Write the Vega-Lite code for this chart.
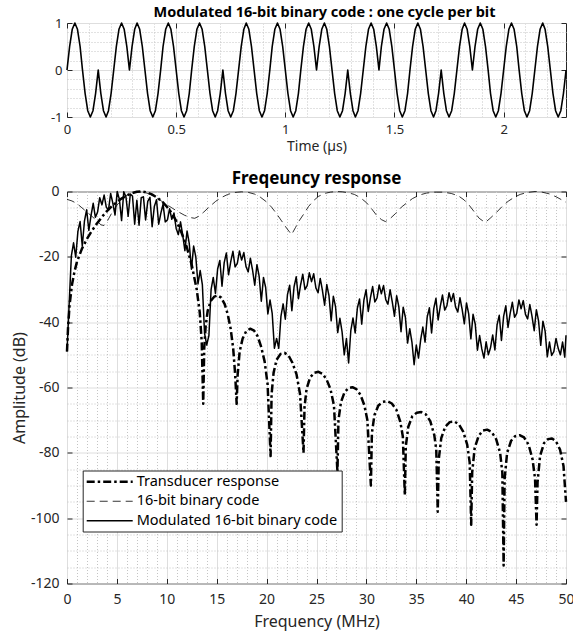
{
"$schema":"https://vega.github.io/schema/vega-lite/v6.json",
"padding":{"left":10,"top":4,"right":0,"bottom":2},
"spacing":14.5,
"config":{
 "font":"Noto Sans",
 "view":{"stroke":"#262626","strokeWidth":1},
 "axis":{"domain":false,"labelColor":"#262626","titleColor":"#262626","titleFontWeight":"normal","tickColor":"#262626","tickSize":-5,"gridColor":"#dedede","gridWidth":1,"labelFlush":false,"labelOverlap":false,"labelExpr":"'' + datum.value"},
 "title":{"color":"#000000","fontWeight":"bold","anchor":"middle","frame":"group"},
 "legend":{"strokeColor":"#262626","fillColor":"#ffffff","padding":4,"symbolType":"M-5.75,0H5.75","symbolSize":64,"symbolOffset":15.75,"labelOffset":19.75,"labelFontSize":14.5,"labelColor":"#000000","labelLimit":400,"rowPadding":4.5,"symbolStrokeColor":"#000000"}
},
"datasets":{
"wave":[{"t":0,"v":0},{"t":0.012,"v":0.5},{"t":0.024,"v":0.866},{"t":0.036,"v":1},{"t":0.048,"v":0.866},{"t":0.06,"v":0.5},{"t":0.071,"v":0},{"t":0.083,"v":-0.5},{"t":0.095,"v":-0.866},{"t":0.107,"v":-1},{"t":0.119,"v":-0.866},{"t":0.131,"v":-0.5},
{"t":0.143,"v":0},{"t":0.155,"v":-0.5},{"t":0.167,"v":-0.866},{"t":0.179,"v":-1},{"t":0.19,"v":-0.866},{"t":0.202,"v":-0.5},{"t":0.214,"v":0},{"t":0.226,"v":0.5},{"t":0.238,"v":0.866},{"t":0.25,"v":1},{"t":0.262,"v":0.866},{"t":0.274,"v":0.5},
{"t":0.286,"v":0},{"t":0.298,"v":0.5},{"t":0.31,"v":0.866},{"t":0.321,"v":1},{"t":0.333,"v":0.866},{"t":0.345,"v":0.5},{"t":0.357,"v":0},{"t":0.369,"v":-0.5},{"t":0.381,"v":-0.866},{"t":0.393,"v":-1},{"t":0.405,"v":-0.866},{"t":0.417,"v":-0.5},
{"t":0.429,"v":0},{"t":0.44,"v":0.5},{"t":0.452,"v":0.866},{"t":0.464,"v":1},{"t":0.476,"v":0.866},{"t":0.488,"v":0.5},{"t":0.5,"v":0},{"t":0.512,"v":-0.5},{"t":0.524,"v":-0.866},{"t":0.536,"v":-1},{"t":0.548,"v":-0.866},{"t":0.56,"v":-0.5},
{"t":0.571,"v":0},{"t":0.583,"v":0.5},{"t":0.595,"v":0.866},{"t":0.607,"v":1},{"t":0.619,"v":0.866},{"t":0.631,"v":0.5},{"t":0.643,"v":0},{"t":0.655,"v":-0.5},{"t":0.667,"v":-0.866},{"t":0.679,"v":-1},{"t":0.69,"v":-0.866},{"t":0.702,"v":-0.5},
{"t":0.714,"v":0},{"t":0.726,"v":-0.5},{"t":0.738,"v":-0.866},{"t":0.75,"v":-1},{"t":0.762,"v":-0.866},{"t":0.774,"v":-0.5},{"t":0.786,"v":0},{"t":0.798,"v":0.5},{"t":0.81,"v":0.866},{"t":0.821,"v":1},{"t":0.833,"v":0.866},{"t":0.845,"v":0.5},
{"t":0.857,"v":0},{"t":0.869,"v":-0.5},{"t":0.881,"v":-0.866},{"t":0.893,"v":-1},{"t":0.905,"v":-0.866},{"t":0.917,"v":-0.5},{"t":0.929,"v":0},{"t":0.94,"v":0.5},{"t":0.952,"v":0.866},{"t":0.964,"v":1},{"t":0.976,"v":0.866},{"t":0.988,"v":0.5},
{"t":1,"v":0},{"t":1.012,"v":-0.5},{"t":1.024,"v":-0.866},{"t":1.036,"v":-1},{"t":1.048,"v":-0.866},{"t":1.06,"v":-0.5},{"t":1.071,"v":0},{"t":1.083,"v":0.5},{"t":1.095,"v":0.866},{"t":1.107,"v":1},{"t":1.119,"v":0.866},{"t":1.131,"v":0.5},
{"t":1.143,"v":0},{"t":1.155,"v":0.5},{"t":1.167,"v":0.866},{"t":1.179,"v":1},{"t":1.19,"v":0.866},{"t":1.202,"v":0.5},{"t":1.214,"v":0},{"t":1.226,"v":-0.5},{"t":1.238,"v":-0.866},{"t":1.25,"v":-1},{"t":1.262,"v":-0.866},{"t":1.274,"v":-0.5},
{"t":1.286,"v":0},{"t":1.298,"v":-0.5},{"t":1.31,"v":-0.866},{"t":1.321,"v":-1},{"t":1.333,"v":-0.866},{"t":1.345,"v":-0.5},{"t":1.357,"v":0},{"t":1.369,"v":0.5},{"t":1.381,"v":0.866},{"t":1.393,"v":1},{"t":1.405,"v":0.866},{"t":1.417,"v":0.5},
{"t":1.429,"v":0},{"t":1.44,"v":0.5},{"t":1.452,"v":0.866},{"t":1.464,"v":1},{"t":1.476,"v":0.866},{"t":1.488,"v":0.5},{"t":1.5,"v":0},{"t":1.512,"v":-0.5},{"t":1.524,"v":-0.866},{"t":1.536,"v":-1},{"t":1.548,"v":-0.866},{"t":1.56,"v":-0.5},
{"t":1.571,"v":0},{"t":1.583,"v":0.5},{"t":1.595,"v":0.866},{"t":1.607,"v":1},{"t":1.619,"v":0.866},{"t":1.631,"v":0.5},{"t":1.643,"v":0},{"t":1.655,"v":-0.5},{"t":1.667,"v":-0.866},{"t":1.679,"v":-1},{"t":1.69,"v":-0.866},{"t":1.702,"v":-0.5},
{"t":1.714,"v":0},{"t":1.726,"v":-0.5},{"t":1.738,"v":-0.866},{"t":1.75,"v":-1},{"t":1.762,"v":-0.866},{"t":1.774,"v":-0.5},{"t":1.786,"v":0},{"t":1.798,"v":0.5},{"t":1.81,"v":0.866},{"t":1.821,"v":1},{"t":1.833,"v":0.866},{"t":1.845,"v":0.5},
{"t":1.857,"v":0},{"t":1.869,"v":0.5},{"t":1.881,"v":0.866},{"t":1.893,"v":1},{"t":1.905,"v":0.866},{"t":1.917,"v":0.5},{"t":1.929,"v":0},{"t":1.94,"v":-0.5},{"t":1.952,"v":-0.866},{"t":1.964,"v":-1},{"t":1.976,"v":-0.866},{"t":1.988,"v":-0.5},
{"t":2,"v":0},{"t":2.012,"v":0.5},{"t":2.024,"v":0.866},{"t":2.036,"v":1},{"t":2.048,"v":0.866},{"t":2.06,"v":0.5},{"t":2.071,"v":0},{"t":2.083,"v":-0.5},{"t":2.095,"v":-0.866},{"t":2.107,"v":-1},{"t":2.119,"v":-0.866},{"t":2.131,"v":-0.5},
{"t":2.143,"v":0},{"t":2.155,"v":0.5},{"t":2.167,"v":0.866},{"t":2.179,"v":1},{"t":2.19,"v":0.866},{"t":2.202,"v":0.5},{"t":2.214,"v":0},{"t":2.226,"v":-0.5},{"t":2.238,"v":-0.866},{"t":2.25,"v":-1},{"t":2.262,"v":-0.866},{"t":2.274,"v":-0.5},{"t":2.286,"v":0}],
"trans":[{"f":0,"db":-49},{"f":0.1,"db":-42},{"f":0.25,"db":-35},{"f":0.5,"db":-28.5},{"f":0.75,"db":-24.5},{"f":1,"db":-21.5},{"f":1.5,"db":-17.5},{"f":2,"db":-14.5},{"f":2.5,"db":-12},{"f":3,"db":-9.8},{"f":3.5,"db":-7.8},{"f":4,"db":-6},{"f":4.5,"db":-4.5},{"f":5,"db":-3.2},{"f":5.5,"db":-2.1},{"f":6,"db":-1.2},{"f":6.5,"db":-0.5},{"f":7,"db":-0.1},{"f":7.5,"db":0},{"f":8,"db":-0.3},{"f":8.5,"db":-0.9},{"f":9,"db":-1.8},{"f":9.5,"db":-3},{"f":10,"db":-4.6},{"f":10.5,"db":-6.6},{"f":11,"db":-9.3},{"f":11.5,"db":-12.8},{"f":12,"db":-17},{"f":12.5,"db":-22.5},{"f":13,"db":-30},{"f":13.3,"db":-37},{"f":13.5,"db":-46},{"f":13.65,"db":-65},{"f":13.75,"db":-48},{"f":13.9,"db":-41},{"f":14.1,"db":-36.5},{"f":14.4,"db":-33.5},{"f":14.75,"db":-32.2},{"f":15.1,"db":-31.8},{"f":15.45,"db":-32.5},{"f":15.8,"db":-34.5},{"f":16.1,"db":-37.5},{"f":16.4,"db":-42},{"f":16.65,"db":-48},{"f":16.85,"db":-56},{"f":17,"db":-65},{"f":17.1,"db":-56},{"f":17.3,"db":-49},{"f":17.6,"db":-45},{"f":17.95,"db":-42.8},{"f":18.35,"db":-42},{"f":18.75,"db":-42.6},{"f":19.1,"db":-44.3},{"f":19.45,"db":-47.5},{"f":19.8,"db":-52},{"f":20.1,"db":-59},{"f":20.4,"db":-81},{"f":20.5,"db":-62},{"f":20.7,"db":-55.5},{"f":21,"db":-51.5},{"f":21.4,"db":-49.7},{"f":21.8,"db":-49.4},{"f":22.2,"db":-50.2},{"f":22.6,"db":-52.5},{"f":23,"db":-56},{"f":23.35,"db":-62},{"f":23.7,"db":-80},{"f":23.8,"db":-66},{"f":24,"db":-60.5},{"f":24.35,"db":-57},{"f":24.75,"db":-55.5},{"f":25.2,"db":-55.2},{"f":25.6,"db":-55.8},{"f":26,"db":-57.5},{"f":26.4,"db":-60.5},{"f":26.75,"db":-65.5},{"f":27.1,"db":-86},{"f":27.2,"db":-70},{"f":27.45,"db":-64.5},{"f":27.8,"db":-61.5},{"f":28.2,"db":-60.2},{"f":28.6,"db":-59.9},{"f":29,"db":-60.5},{"f":29.4,"db":-62.2},{"f":29.8,"db":-65.5},{"f":30.1,"db":-70},{"f":30.45,"db":-90},{"f":30.55,"db":-74},{"f":30.8,"db":-68.5},{"f":31.2,"db":-65.5},{"f":31.65,"db":-64.4},{"f":32.1,"db":-64.2},{"f":32.55,"db":-64.9},{"f":33,"db":-66.8},{"f":33.4,"db":-70.5},{"f":33.65,"db":-75},{"f":33.85,"db":-93},{"f":33.95,"db":-78},{"f":34.2,"db":-72},{"f":34.6,"db":-68.8},{"f":35.05,"db":-67.7},{"f":35.5,"db":-67.5},{"f":35.95,"db":-68.2},{"f":36.4,"db":-70.3},{"f":36.8,"db":-74.5},{"f":37,"db":-79},{"f":37.15,"db":-98},{"f":37.25,"db":-82},{"f":37.5,"db":-75.5},{"f":37.9,"db":-72},{"f":38.35,"db":-70.6},{"f":38.8,"db":-70.4},{"f":39.25,"db":-71.2},{"f":39.7,"db":-73.5},{"f":40.1,"db":-77.5},{"f":40.35,"db":-83},{"f":40.5,"db":-102},{"f":40.6,"db":-86},{"f":40.85,"db":-78.5},{"f":41.25,"db":-74.8},{"f":41.65,"db":-73.2},{"f":42.1,"db":-72.9},{"f":42.55,"db":-73.6},{"f":43,"db":-75.8},{"f":43.4,"db":-80},{"f":43.62,"db":-86},{"f":43.75,"db":-114.5},{"f":43.85,"db":-88},{"f":44.1,"db":-80},{"f":44.5,"db":-76.3},{"f":44.9,"db":-74.9},{"f":45.35,"db":-74.6},{"f":45.8,"db":-75.3},{"f":46.25,"db":-77.5},{"f":46.65,"db":-82},{"f":46.9,"db":-88},{"f":47.05,"db":-102},{"f":47.15,"db":-89},{"f":47.4,"db":-81},{"f":47.8,"db":-77},{"f":48.2,"db":-75.8},{"f":48.6,"db":-75.6},{"f":49,"db":-76.5},{"f":49.4,"db":-79},{"f":49.75,"db":-84},{"f":50,"db":-95}],
"code":[{"f":0,"db":-2.4},{"f":0.5,"db":-2.9},{"f":1,"db":-3.7},{"f":1.5,"db":-5},{"f":2,"db":-6.3},{"f":2.5,"db":-7.6},{"f":3,"db":-9},{"f":3.4,"db":-10.2},{"f":3.7,"db":-10.4},{"f":4,"db":-9.3},{"f":4.5,"db":-6.5},{"f":5,"db":-4.2},{"f":5.5,"db":-2.4},{"f":6,"db":-1.1},{"f":6.6,"db":-0.3},{"f":7.2,"db":-0.1},{"f":7.8,"db":-0.3},{"f":8.3,"db":-0.8},{"f":8.9,"db":-1.8},{"f":9.5,"db":-3},{"f":10,"db":-4},{"f":10.6,"db":-5.2},{"f":11.2,"db":-6.3},{"f":11.8,"db":-7.3},{"f":12.4,"db":-8},{"f":12.8,"db":-8.2},{"f":13.2,"db":-7.6},{"f":13.7,"db":-6.3},{"f":14.3,"db":-4.6},{"f":14.9,"db":-3},{"f":15.5,"db":-1.8},{"f":16.1,"db":-0.9},{"f":16.8,"db":-0.3},{"f":17.5,"db":-0.1},{"f":18.2,"db":-0.3},{"f":18.8,"db":-0.8},{"f":19.4,"db":-1.8},{"f":20,"db":-3.2},{"f":20.5,"db":-4.8},{"f":21,"db":-6.8},{"f":21.5,"db":-9},{"f":22,"db":-11.2},{"f":22.5,"db":-13.2},{"f":22.9,"db":-11},{"f":23.3,"db":-8.8},{"f":23.7,"db":-7},{"f":24.2,"db":-4.6},{"f":24.7,"db":-2.8},{"f":25.2,"db":-1.5},{"f":25.8,"db":-0.6},{"f":26.4,"db":-0.2},{"f":27,"db":0},{"f":27.6,"db":-0.1},{"f":28.2,"db":-0.4},{"f":28.8,"db":-0.9},{"f":29.4,"db":-1.9},{"f":30,"db":-3.4},{"f":30.5,"db":-5.2},{"f":31,"db":-7.2},{"f":31.5,"db":-8.6},{"f":31.9,"db":-9.2},{"f":32.3,"db":-8.5},{"f":32.9,"db":-6.8},{"f":33.5,"db":-4.8},{"f":34,"db":-3.6},{"f":34.6,"db":-2.2},{"f":35.3,"db":-1.1},{"f":36,"db":-0.5},{"f":36.8,"db":-0.2},{"f":37.7,"db":-0.2},{"f":38.5,"db":-0.6},{"f":39.2,"db":-1.3},{"f":39.8,"db":-2.6},{"f":40.3,"db":-4.2},{"f":40.8,"db":-6.2},{"f":41.3,"db":-8.2},{"f":41.9,"db":-9.5},{"f":42.4,"db":-8.2},{"f":43,"db":-6.5},{"f":43.6,"db":-4.6},{"f":44.2,"db":-3},{"f":44.8,"db":-1.8},{"f":45.4,"db":-0.9},{"f":46.1,"db":-0.3},{"f":46.9,"db":0},{"f":47.6,"db":-0.2},{"f":48.3,"db":-0.7},{"f":49,"db":-1.6},{"f":49.6,"db":-2.6},{"f":50,"db":-3.3}],
"mod":[{"f":0,"db":-49},{"f":0.219,"db":-34.2},{"f":0.438,"db":-19.7},{"f":0.656,"db":-15.7},{"f":0.875,"db":-20.1},{"f":1.094,"db":-12.2},{"f":1.313,"db":-9.2},{"f":1.531,"db":-16.7},{"f":1.75,"db":-9},{"f":1.969,"db":-5.6},{"f":2.188,"db":-11.9},{"f":2.406,"db":-7.4},{"f":2.625,"db":-3.6},{"f":2.844,"db":-7.9},{"f":3.063,"db":-6.3},{"f":3.281,"db":-1.9},{"f":3.5,"db":-4.1},{"f":3.719,"db":-1.1},{"f":3.938,"db":-4.8},{"f":4.156,"db":-5.7},{"f":4.375,"db":-0.6},{"f":4.594,"db":-3.6},{"f":4.813,"db":-7.2},{"f":5.031,"db":0},{"f":5.25,"db":-2.4},{"f":5.469,"db":-8.9},{"f":5.688,"db":-0.1},{"f":5.906,"db":-1.6},{"f":6.125,"db":-7.6},{"f":6.344,"db":-0.8},{"f":6.563,"db":-1.4},{"f":6.781,"db":-10},{"f":7,"db":-2.7},{"f":7.219,"db":-10.3},{"f":7.438,"db":-1.9},{"f":7.656,"db":-1.6},{"f":7.875,"db":-8.7},{"f":8.094,"db":-3},{"f":8.313,"db":-1.8},{"f":8.531,"db":-10.8},{"f":8.75,"db":-4.6},{"f":8.969,"db":-2.5},{"f":9.188,"db":-10},{"f":9.406,"db":-6.6},{"f":9.625,"db":-3.9},{"f":9.844,"db":-9.3},{"f":10.063,"db":-8.7},{"f":10.281,"db":-5.3},{"f":10.5,"db":-8.5},{"f":10.719,"db":-6.6},{"f":10.938,"db":-11.3},{"f":11.156,"db":-13.2},{"f":11.375,"db":-9.3},{"f":11.594,"db":-13.3},{"f":11.813,"db":-18.1},{"f":12.031,"db":-12.1},{"f":12.25,"db":-15.9},{"f":12.469,"db":-23.8},{"f":12.688,"db":-16.7},{"f":12.906,"db":-20},{"f":13.125,"db":-28.3},{"f":13.344,"db":-24.2},{"f":13.563,"db":-28.5},{"f":13.781,"db":-43.4},{"f":14,"db":-47},{"f":14.219,"db":-44.1},{"f":14.438,"db":-30},{"f":14.656,"db":-26.3},{"f":14.875,"db":-31.2},{"f":15.094,"db":-23.7},{"f":15.313,"db":-21.1},{"f":15.531,"db":-29},{"f":15.75,"db":-21.8},{"f":15.969,"db":-18.8},{"f":16.188,"db":-25.5},{"f":16.406,"db":-21.5},{"f":16.625,"db":-18.3},{"f":16.844,"db":-23.1},{"f":17.063,"db":-22},{"f":17.281,"db":-18.2},{"f":17.5,"db":-21},{"f":17.719,"db":-18.7},{"f":17.938,"db":-23},{"f":18.156,"db":-24.6},{"f":18.375,"db":-20.4},{"f":18.594,"db":-24.1},{"f":18.813,"db":-28.7},{"f":19.031,"db":-22.4},{"f":19.25,"db":-25.9},{"f":19.469,"db":-33.6},{"f":19.688,"db":-26.3},{"f":19.906,"db":-29.4},{"f":20.125,"db":-37.5},{"f":20.344,"db":-33.2},{"f":20.563,"db":-37.4},{"f":20.781,"db":-48},{"f":21,"db":-45},{"f":21.219,"db":-48},{"f":21.438,"db":-38.2},{"f":21.656,"db":-34.4},{"f":21.875,"db":-39.1},{"f":22.094,"db":-31.5},{"f":22.313,"db":-28.7},{"f":22.531,"db":-36.5},{"f":22.75,"db":-29.2},{"f":22.969,"db":-26.1},{"f":23.188,"db":-32.8},{"f":23.406,"db":-28.6},{"f":23.625,"db":-25.3},{"f":23.844,"db":-30},{"f":24.063,"db":-28.8},{"f":24.281,"db":-24.9},{"f":24.5,"db":-27.6},{"f":24.719,"db":-25.2},{"f":24.938,"db":-29.5},{"f":25.156,"db":-31},{"f":25.375,"db":-26.6},{"f":25.594,"db":-30.3},{"f":25.813,"db":-34.8},{"f":26.031,"db":-28.5},{"f":26.25,"db":-31.9},{"f":26.469,"db":-39.6},{"f":26.688,"db":-32.1},{"f":26.906,"db":-35.2},{"f":27.125,"db":-43.2},{"f":27.344,"db":-38.8},{"f":27.563,"db":-43},{"f":27.781,"db":-50},{"f":28,"db":-45},{"f":28.219,"db":-52.5},{"f":28.438,"db":-42.6},{"f":28.656,"db":-38.7},{"f":28.875,"db":-43.3},{"f":29.094,"db":-35.7},{"f":29.313,"db":-32.9},{"f":29.531,"db":-40.6},{"f":29.75,"db":-33.2},{"f":29.969,"db":-30.1},{"f":30.188,"db":-36.7},{"f":30.406,"db":-32.5},{"f":30.625,"db":-29.1},{"f":30.844,"db":-33.8},{"f":31.063,"db":-32.6},{"f":31.281,"db":-28.6},{"f":31.5,"db":-31.3},{"f":31.719,"db":-28.8},{"f":31.938,"db":-33.1},{"f":32.156,"db":-34.5},{"f":32.375,"db":-30.1},{"f":32.594,"db":-33.8},{"f":32.813,"db":-38.2},{"f":33.031,"db":-31.9},{"f":33.25,"db":-35.3},{"f":33.469,"db":-42.9},{"f":33.688,"db":-35.4},{"f":33.906,"db":-38.5},{"f":34.125,"db":-46.4},{"f":34.344,"db":-42},{"f":34.563,"db":-46.1},{"f":34.781,"db":-53},{"f":35,"db":-47},{"f":35.219,"db":-51},{"f":35.438,"db":-45.4},{"f":35.656,"db":-41.5},{"f":35.875,"db":-46.1},{"f":36.094,"db":-38.4},{"f":36.313,"db":-35.6},{"f":36.531,"db":-43.3},{"f":36.75,"db":-35.9},{"f":36.969,"db":-32.7},{"f":37.188,"db":-39.3},{"f":37.406,"db":-35.1},{"f":37.625,"db":-31.7},{"f":37.844,"db":-36.3},{"f":38.063,"db":-35},{"f":38.281,"db":-31},{"f":38.5,"db":-33.7},{"f":38.719,"db":-31.2},{"f":38.938,"db":-35.4},{"f":39.156,"db":-36.9},{"f":39.375,"db":-32.5},{"f":39.594,"db":-36.1},{"f":39.813,"db":-40.5},{"f":40.031,"db":-34.1},{"f":40.25,"db":-37.5},{"f":40.469,"db":-45.1},{"f":40.688,"db":-37.6},{"f":40.906,"db":-40.6},{"f":41.125,"db":-48.6},{"f":41.344,"db":-44.1},{"f":41.563,"db":-48.2},{"f":41.781,"db":-51},{"f":42,"db":-46},{"f":42.219,"db":-50},{"f":42.438,"db":-47.8},{"f":42.656,"db":-43.9},{"f":42.875,"db":-48.5},{"f":43.094,"db":-40.8},{"f":43.313,"db":-37.9},{"f":43.531,"db":-45.6},{"f":43.75,"db":-38.2},{"f":43.969,"db":-35},{"f":44.188,"db":-41.6},{"f":44.406,"db":-37.3},{"f":44.625,"db":-33.9},{"f":44.844,"db":-38.5},{"f":45.063,"db":-37.3},{"f":45.281,"db":-33.2},{"f":45.5,"db":-35.9},{"f":45.719,"db":-33.4},{"f":45.938,"db":-37.6},{"f":46.156,"db":-39},{"f":46.375,"db":-34.6},{"f":46.594,"db":-38.2},{"f":46.813,"db":-42.6},{"f":47.031,"db":-36.2},{"f":47.25,"db":-39.6},{"f":47.469,"db":-47.1},{"f":47.688,"db":-39.7},{"f":47.906,"db":-42.7},{"f":48.125,"db":-50.6},{"f":48.344,"db":-46.1},{"f":48.563,"db":-50.2},{"f":48.781,"db":-49},{"f":49,"db":-45},{"f":49.219,"db":-48},{"f":49.438,"db":-50},{"f":49.656,"db":-46.1},{"f":49.875,"db":-50.7},{"f":50,"db":-44}]
},
"vconcat":[
{
 "width":499,"height":94,
 "title":{"text":"Modulated 16-bit binary code : one cycle per bit","fontSize":14.5,"offset":-3,"dx":8},
 "data":{"name":"wave"},
 "resolve":{"axis":{"x":"independent","y":"independent"}},
 "layer":[
  {"mark":{"type":"line","color":"#000000","strokeWidth":1.6,"strokeJoin":"round"},
   "encoding":{
    "x":{"field":"t","type":"quantitative","scale":{"domain":[0,2.2857],"nice":false,"zero":false},
         "axis":{"orient":"bottom","values":[0,0.5,1,1.5,2],"title":"Time (µs)","grid":true,"labelFontSize":13,"titleFontSize":14,"labelPadding":11.5,"titlePadding":3}},
    "y":{"field":"v","type":"quantitative","scale":{"domain":[-1,1],"nice":false},
         "axis":{"orient":"left","values":[-1,0,1],"title":null,"grid":true,"labelFontSize":13,"labelPadding":10}}}},
  {"mark":{"type":"line","opacity":0},
   "encoding":{
    "x":{"field":"t","type":"quantitative","axis":{"orient":"bottom","values":[0.1,0.2,0.3,0.4,0.6,0.7,0.8,0.9,1.1,1.2,1.3,1.4,1.6,1.7,1.8,1.9,2.1,2.2],"grid":true,"gridDash":[1,2],"gridColor":"#c4c4c4","labels":false,"ticks":false,"title":null}},
    "y":{"field":"v","type":"quantitative","axis":{"orient":"left","values":[-0.8,-0.6,-0.4,-0.2,0.2,0.4,0.6,0.8],"grid":true,"gridDash":[1,2],"gridColor":"#c4c4c4","labels":false,"ticks":false,"title":null}}}},
  {"mark":{"type":"line","opacity":0},
   "encoding":{
    "x":{"field":"t","type":"quantitative","axis":{"orient":"top","values":[0,0.5,1,1.5,2],"grid":false,"labels":false,"title":null}},
    "y":{"field":"v","type":"quantitative","axis":{"orient":"right","values":[-1,0,1],"grid":false,"labels":false,"title":null}}}}
 ]
},
{
 "width":499,"height":392,
 "title":{"text":"Freqeuncy response","fontSize":17,"offset":-3},
 "resolve":{"axis":{"x":"independent","y":"independent"}},
 "layer":[
  {"data":{"name":"trans"},
   "mark":{"type":"line","color":"#000000","strokeWidth":2.5,"strokeJoin":"round"},
   "encoding":{
    "x":{"field":"f","type":"quantitative","scale":{"domain":[0,50],"nice":false,"zero":false},
         "axis":{"orient":"bottom","values":[0,5,10,15,20,25,30,35,40,45,50],"title":"Frequency (MHz)","grid":true,"labelFontSize":14,"titleFontSize":16,"labelPadding":14,"titlePadding":7}},
    "y":{"field":"db","type":"quantitative","scale":{"domain":[-120,0],"nice":false},
         "axis":{"orient":"left","values":[-120,-100,-80,-60,-40,-20,0],"title":"Amplitude (dB)","grid":true,"labelFontSize":14,"titleFontSize":16,"labelPadding":13,"titlePadding":3}},
    "strokeDash":{"datum":"Transducer response","type":"nominal","scale":{"type":"ordinal","domain":["Transducer response","16-bit binary code","Modulated 16-bit binary code"],"range":[[8,3,2.5,3],[8,5],[1,0]]},
      "legend":{"title":null,"orient":"none","legendX":15.7,"legendY":447.5,
        "encode":{"symbols":{"update":{"strokeWidth":{"signal":"datum.value === 'Transducer response' ? 2.5 : (datum.value === '16-bit binary code' ? 0.8 : 1.5)"}}}}}}}},
  {"data":{"name":"code"},
   "mark":{"type":"line","color":"#000000","strokeWidth":0.8,"strokeJoin":"round"},
   "encoding":{
    "x":{"field":"f","type":"quantitative","axis":{"orient":"bottom","values":[1,2,3,4,6,7,8,9,11,12,13,14,16,17,18,19,21,22,23,24,26,27,28,29,31,32,33,34,36,37,38,39,41,42,43,44,46,47,48,49],"grid":true,"gridDash":[1,2],"gridColor":"#c4c4c4","labels":false,"ticks":false,"title":null}},
    "y":{"field":"db","type":"quantitative","axis":{"orient":"left","values":[-115,-110,-105,-95,-90,-85,-75,-70,-65,-55,-50,-45,-35,-30,-25,-15,-10,-5],"grid":true,"gridDash":[1,2],"gridColor":"#c4c4c4","labels":false,"ticks":false,"title":null}},
    "strokeDash":{"datum":"16-bit binary code","type":"nominal"}}},
  {"data":{"name":"mod"},
   "mark":{"type":"line","color":"#000000","strokeWidth":1.5,"strokeJoin":"round"},
   "encoding":{
    "x":{"field":"f","type":"quantitative","axis":{"orient":"top","values":[0,5,10,15,20,25,30,35,40,45,50],"grid":false,"labels":false,"title":null}},
    "y":{"field":"db","type":"quantitative","axis":{"orient":"right","values":[-120,-100,-80,-60,-40,-20,0],"grid":false,"labels":false,"title":null}},
    "strokeDash":{"datum":"Modulated 16-bit binary code","type":"nominal"}}}
 ]
}
]
}
